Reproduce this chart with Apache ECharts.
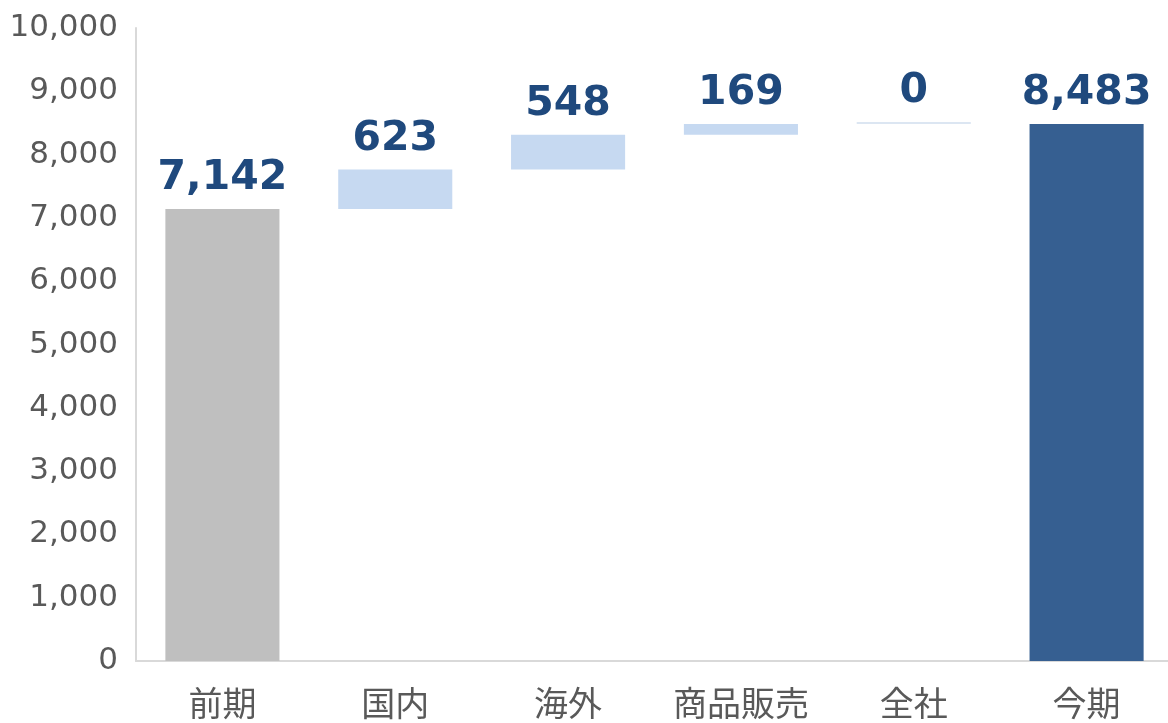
<!DOCTYPE html>
<html><head><meta charset="utf-8">
<script src="https://cdn.jsdelivr.net/npm/echarts@6/dist/echarts.min.js"></script>
<style>html,body{margin:0;padding:0;background:#fff;overflow:hidden;width:1168px;height:723px}#c{width:1173px;height:723px}</style>
</head><body><div id="c"></div>
<script>
const categories = ['前期', '国内', '海外', '商品販売', '全社', '今期'];
const values = [7142, 623, 548, 169, 0, 8483];
const yTicks = [0, 1000, 2000, 3000, 4000, 5000, 6000, 7000, 8000, 9000, 10000];
const colors = ['#BFBFBF', '#C6D9F1', '#C6D9F1', '#C6D9F1', '#DCE6F2', '#365F91'];

const base = [];
let run = 0;
values.forEach((v, i) => {
  if (i === 0 || i === values.length - 1) { base.push(0); run = (i === 0 ? v : run); }
  else { base.push(run); run += v; }
});
const fmt = v => v.toLocaleString('en-US');

const chart = echarts.init(document.getElementById('c'));
chart.setOption({
  animation: false,
  grid: { left: 136, right: 0, top: 28, bottom: 62, containLabel: false },
  xAxis: {
    type: 'category', data: categories,
    axisLine: { lineStyle: { color: '#D9D9D9', width: 2 } },
    axisTick: { show: false },
    axisLabel: { interval: 0, color: '#595959', fontSize: 34, margin: 25, fontFamily: 'Noto Sans CJK JP' }
  },
  yAxis: {
    type: 'value', min: 0, max: 10000, interval: 1000,
    axisLine: { show: true, lineStyle: { color: '#D9D9D9', width: 2 } },
    axisTick: { show: false },
    splitLine: { show: false },
    axisLabel: { color: '#595959', fontSize: 31, margin: 18, fontFamily: 'DejaVu Sans', formatter: v => fmt(v) }
  },
  series: [
    { type: 'bar', stack: 'w', data: base, itemStyle: { color: 'transparent' }, barWidth: '66%', silent: true },
    { type: 'bar', stack: 'w', barMinHeight: 2,
      data: values.map((v, i) => ({ value: v, itemStyle: { color: colors[i] } })),
      label: { show: true, position: 'top', distance: 10, color: '#1F497D', fontSize: 41, fontWeight: 'bold',
               fontFamily: 'DejaVu Sans', formatter: p => fmt(p.value) } }
  ]
});
</script></body></html>
